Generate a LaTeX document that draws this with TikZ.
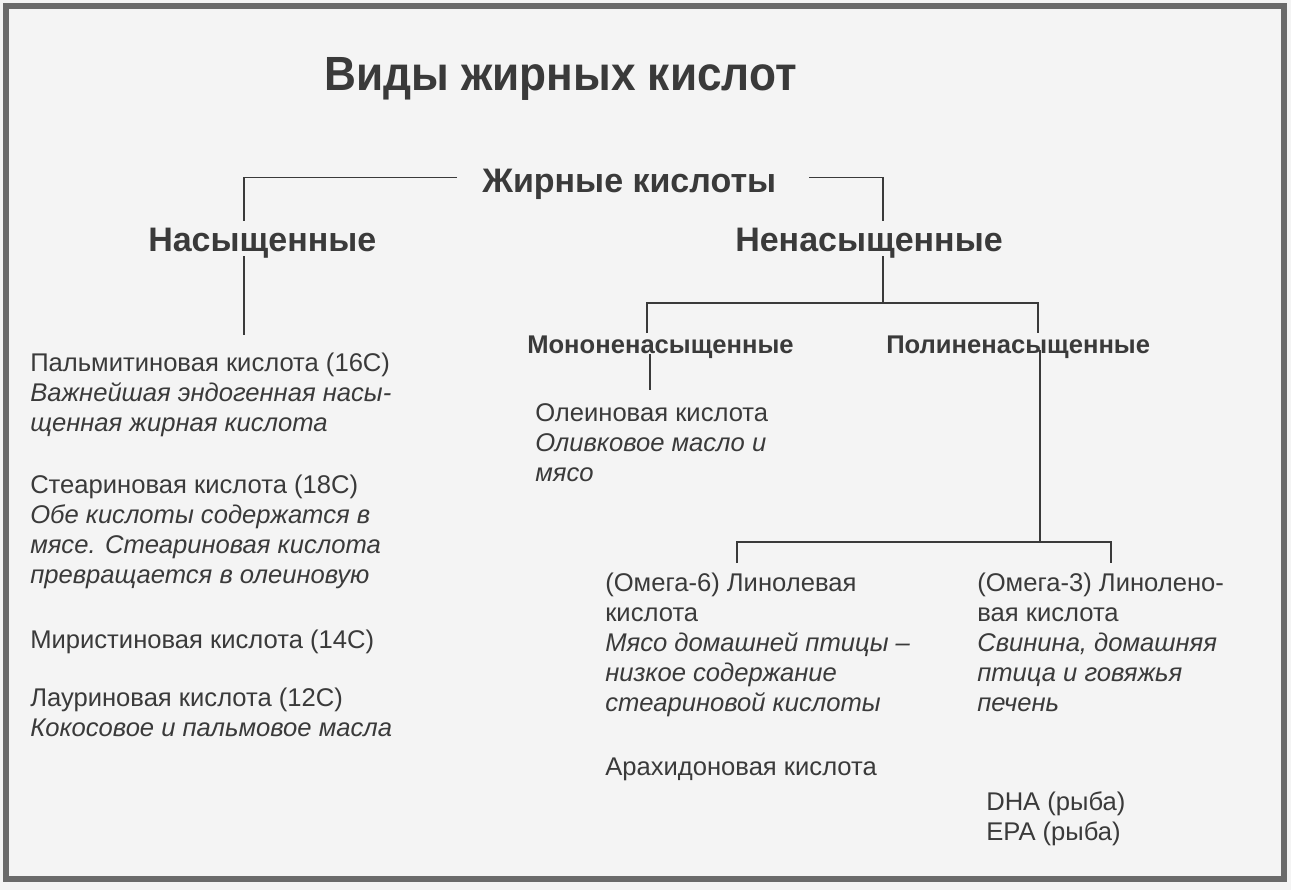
\documentclass[tikz,border=0pt]{standalone}
\usepackage{fontspec}
\setmainfont{Liberation Sans}
\newfontfamily\titlefont[FakeStretch=0.92]{Liberation Sans}
\usetikzlibrary{positioning}
\definecolor{ink}{HTML}{3A3A3A}
\definecolor{paper}{HTML}{F4F4F4}
\definecolor{rim}{HTML}{6A6A6A}
\tikzset{
  heading/.style={font=\titlefont\fontsize{36}{40}\selectfont\bfseries, inner sep=0, anchor=base west, text=ink},
  head/.style={font=\fontsize{25.5}{30}\selectfont\bfseries, inner sep=0, anchor=base west, text=ink},
  subhead/.style={font=\fontsize{19.2}{22.5}\selectfont\bfseries, inner sep=0, anchor=base west, text=ink},
  % multi-line blocks: placed at the baseline of their last line
  txt/.style={font=\fontsize{19.2}{22.5}\selectfont, align=left, inner sep=0, anchor=base west, text=ink},
  link/.style={draw=ink, line width=1.1pt},
}
\begin{document}
\begin{tikzpicture}[x=0.75pt,y=-0.75pt]
  \fill[paper] (0,0) rectangle (1291,890);
  \useasboundingbox (0,0) rectangle (1291,890);
  \draw[rim, line width=4.5pt] (6,6) rectangle (1284,879);

  % title and main levels
  \node[heading] (title) at (324,90) {Виды жирных кислот};
  \node[head] (fa) at (482,192) {Жирные кислоты};
  \node[head] (sat) at (148,251) {Насыщенные};
  \node[head] (unsat) at (735,251) {Ненасыщенные};

  % saturated acids
  \node[txt] (palm) at (30,431) {Пальмитиновая кислота (16C)\\
    \textit{Важнейшая эндогенная насы-}\\\textit{щенная жирная кислота}};
  \node[txt] (stear) at (30,583) {Стеариновая кислота (18C)\\
    \textit{Обе кислоты содержатся в}\\\textit{мясе. Стеариновая кислота}\\
    \textit{превращается в олеиновую}};
  \node[txt] (myr) at (30,648) {Миристиновая кислота (14C)};
  \node[txt] (laur) at (30,736) {Лауриновая кислота (12C)\\
    \textit{Кокосовое и пальмовое масла}};

  % unsaturated acids
  \node[subhead] (mono) at (527,353) {Мононенасыщенные};
  \node[subhead] (poly) at (886,353) {Полиненасыщенные};
  \node[txt] (ole) at (535,481) {Олеиновая кислота\\
    \textit{Оливковое масло и}\\\textit{мясо}};
  \node[txt] (om6) at (605,711) {(Омега-6) Линолевая\\кислота\\
    \textit{Мясо домашней птицы –}\\\textit{низкое содержание}\\
    \textit{стеариновой кислоты}};
  \node[txt] (arach) at (605,775) {Арахидоновая кислота};
  \node[txt] (om3) at (977,711) {(Омега-3) Линолено-\\вая кислота\\
    \textit{Свинина, домашняя}\\\textit{птица и говяжья}\\\textit{печень}};
  \node[txt] (dha) at (986,840) {DHA (рыба)\\EPA (рыба)};

  % junctions
  \coordinate (satIn) at (244,221);
  \coordinate (unsatIn) at (883,221);
  \coordinate (satOut) at (244,335);
  \coordinate (unsatBar) at (883,303);
  \coordinate (monoIn) at (647,333);
  \coordinate (polyIn) at (1038,333);
  \coordinate (monoOut) at (650,390);
  \coordinate (polyBar) at (1040,542);
  \coordinate (om6In) at (737,563);
  \coordinate (om3In) at (1111,563);

  % tree
  \draw[link] ([shift={(-18.75pt,4.8pt)}]fa.west) -| (satIn);
  \draw[link] ([shift={(24.75pt,4.8pt)}]fa.east) -| (unsatIn);
  \draw[link] (sat.south -| satOut) ++(0,-2) -- (satOut);
  \draw[link] (unsat.south -| unsatBar) ++(0,-2) -- (unsatBar);
  \draw[link] (monoIn) |- (unsatBar) -| (polyIn);
  \draw[link] (mono.south -| monoOut) ++(0,-4) -- (monoOut);
  \draw[link] (poly.south -| polyBar) ++(0,-8) -- (polyBar);
  \draw[link] (om6In) |- (polyBar) -| (om3In);
\end{tikzpicture}
\end{document}
